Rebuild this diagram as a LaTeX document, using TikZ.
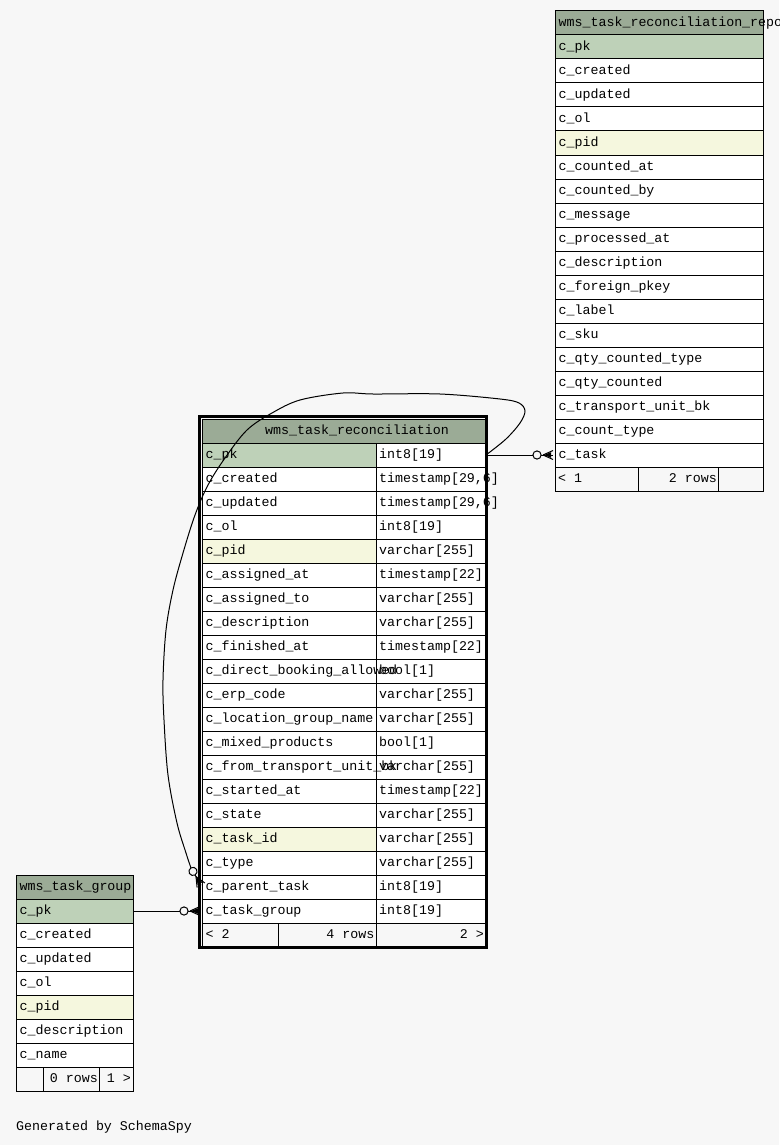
\documentclass[tikz,border=0pt]{standalone}
\usepackage{fontspec}
\newfontfamily\mono{Liberation Mono}[HyphenChar=None]
\usetikzlibrary{calc}
\definecolor{pagebg}{HTML}{F7F7F7}
\definecolor{headbg}{HTML}{9BAB96}
\definecolor{pkbg}{HTML}{BED1B8}
\definecolor{idxbg}{HTML}{F5F7DE}

% cell: name, x, y (top left), width, fill, text
\newcommand\tcell[6]{%
  \node[cellbox, fill=#5, minimum width=#4] (#1) at (#2,#3) {};
  \node[celltext] (#1-t) at ([xshift=3.5pt,yshift=-15.5pt]#1.north west) {#6};
}
% empty cell: name, x, y, width, fill
\newcommand\ecell[5]{%
  \node[cellbox, fill=#5, minimum width=#4] (#1) at (#2,#3) {};
}

\begin{document}
\begin{tikzpicture}[x=1pt,y=-1pt,
  cellbox/.style={draw=black, line width=1pt, rectangle, anchor=north west,
    inner sep=0pt, outer sep=0pt, minimum height=24pt},
  celltext/.style={anchor=base west, inner sep=0pt,
    font=\mono\fontsize{13.3}{16}\selectfont},
  righttext/.style={anchor=base east, inner sep=0pt,
    font=\mono\fontsize{13.3}{16}\selectfont},
  link/.style={draw=black, line width=1pt},
  crowdot/.pic={
    \draw[line width=1pt] (-12,0) -- (-2,-4.5);
    \draw[line width=1pt] (-12,0) -- (-2,4.5);
    \draw[line width=1pt] (-12,0) -- (-2,0);
    \fill[black] (-11,0) -- (-4,-2.8) -- (-4,2.8) -- cycle;
    \draw[line width=1pt] (-14,0) -- (-12,0);
    \draw[line width=1pt, fill=pagebg] (-18,0) circle[radius=4.1];
    \coordinate (-in) at (-22.1,0);
  }
]
\useasboundingbox (0,0) rectangle (779,1145);
\fill[pagebg] (0,0) rectangle (779,1145);
\clip (0,0) rectangle (779,1145);

% ---------- wms_task_reconciliation ----------
\node[cellbox, fill=headbg, minimum width=284pt] (mh) at (202,419) {};
\node[celltext] (mh-t) at (265,434.5) {wms\_task\_reconciliation};
\foreach \n/\t/\f [count=\i] in {
  c\_pk/{int8[19]}/pkbg,
  c\_created/{timestamp[29,6]}/white,
  c\_updated/{timestamp[29,6]}/white,
  c\_ol/{int8[19]}/white,
  c\_pid/{varchar[255]}/idxbg,
  c\_assigned\_at/{timestamp[22]}/white,
  c\_assigned\_to/{varchar[255]}/white,
  c\_description/{varchar[255]}/white,
  c\_finished\_at/{timestamp[22]}/white,
  c\_direct\_booking\_allowed/{bool[1]}/white,
  c\_erp\_code/{varchar[255]}/white,
  c\_location\_group\_name/{varchar[255]}/white,
  c\_mixed\_products/{bool[1]}/white,
  c\_from\_transport\_unit\_bk/{varchar[255]}/white,
  c\_started\_at/{timestamp[22]}/white,
  c\_state/{varchar[255]}/white,
  c\_task\_id/{varchar[255]}/idxbg,
  c\_type/{varchar[255]}/white,
  c\_parent\_task/{int8[19]}/white,
  c\_task\_group/{int8[19]}/white}{
  \ecell{m\i}{202}{{443+24*(\i-1)}}{174pt}{\f}
  \ecell{mt\i}{376}{{443+24*(\i-1)}}{110pt}{white}
}
\foreach \n/\t/\f [count=\i] in {
  c\_pk/{int8[19]}/pkbg,
  c\_created/{timestamp[29,6]}/white,
  c\_updated/{timestamp[29,6]}/white,
  c\_ol/{int8[19]}/white,
  c\_pid/{varchar[255]}/idxbg,
  c\_assigned\_at/{timestamp[22]}/white,
  c\_assigned\_to/{varchar[255]}/white,
  c\_description/{varchar[255]}/white,
  c\_finished\_at/{timestamp[22]}/white,
  c\_direct\_booking\_allowed/{bool[1]}/white,
  c\_erp\_code/{varchar[255]}/white,
  c\_location\_group\_name/{varchar[255]}/white,
  c\_mixed\_products/{bool[1]}/white,
  c\_from\_transport\_unit\_bk/{varchar[255]}/white,
  c\_started\_at/{timestamp[22]}/white,
  c\_state/{varchar[255]}/white,
  c\_task\_id/{varchar[255]}/idxbg,
  c\_type/{varchar[255]}/white,
  c\_parent\_task/{int8[19]}/white,
  c\_task\_group/{int8[19]}/white}{
  \node[celltext] (m\i-t) at ([xshift=3.5pt,yshift=-15.5pt]m\i.north west) {\n};
  \node[celltext] (mt\i-t) at ([xshift=3pt,yshift=-15.5pt]mt\i.north west) {\t};
}
\ecell{mf1}{202}{923}{76pt}{pagebg}
\ecell{mf2}{278}{923}{98pt}{pagebg}
\ecell{mf3}{376}{923}{110pt}{pagebg}
\node[celltext] (mf1-t) at ([xshift=3.5pt,yshift=-15.5pt]mf1.north west) {< 2};
\node[righttext] (mf2-t) at ([xshift=-1.5pt,yshift=-15.5pt]mf2.north east) {4 rows};
\node[righttext] (mf3-t) at ([xshift=-2pt,yshift=-15.5pt]mf3.north east) {2 >};
\draw[line width=3pt] (199.6,416.8) rectangle (486.6,947.8);

% ---------- wms_task_reconciliation_report ----------
\tcell{rh}{555}{11}{208pt}{headbg}{wms\_task\_reconciliation\_report}
\foreach \n/\f [count=\i] in {
  c\_pk/pkbg, c\_created/white, c\_updated/white, c\_ol/white, c\_pid/idxbg,
  c\_counted\_at/white, c\_counted\_by/white, c\_message/white,
  c\_processed\_at/white, c\_description/white, c\_foreign\_pkey/white,
  c\_label/white, c\_sku/white, c\_qty\_counted\_type/white,
  c\_qty\_counted/white, c\_transport\_unit\_bk/white, c\_count\_type/white,
  c\_task/white}{
  \tcell{r\i}{555}{{35+24*(\i-1)}}{208pt}{\f}{\n}
}
\ecell{rf1}{555}{467}{83pt}{pagebg}
\ecell{rf2}{638}{467}{80pt}{pagebg}
\ecell{rf3}{718}{467}{45pt}{pagebg}
\node[celltext] (rf1-t) at ([xshift=3pt,yshift=-15.5pt]rf1.north west) {< 1};
\node[righttext] (rf2-t) at ([xshift=-1pt,yshift=-15.5pt]rf2.north east) {2 rows};

% ---------- wms_task_group ----------
\tcell{lh}{16}{875}{117pt}{headbg}{wms\_task\_group}
\foreach \n/\f [count=\i] in {
  c\_pk/pkbg, c\_created/white, c\_updated/white, c\_ol/white, c\_pid/idxbg,
  c\_description/white, c\_name/white}{
  \tcell{l\i}{16}{{899+24*(\i-1)}}{117pt}{\f}{\n}
}
\ecell{lf1}{16}{1067}{27pt}{pagebg}
\ecell{lf2}{43}{1067}{56pt}{pagebg}
\ecell{lf3}{99}{1067}{34pt}{pagebg}
\node[righttext] (lf2-t) at ([xshift=-1pt,yshift=-15.5pt]lf2.north east) {0 rows};
\node[righttext] (lf3-t) at ([xshift=-2pt,yshift=-15.5pt]lf3.north east) {1 >};

% ---------- relationships ----------
\pic (ka) at (r18.west) {crowdot};
\draw[link] (mt1.east) -- (ka-in);

\pic (kb) at (m20.west) {crowdot};
\draw[link] (l1.east) -- (kb-in);

\pic[rotate=-60] (kc) at (m19.west) {crowdot};
\draw[link] plot[smooth, tension=0.55] coordinates {
  (mt1.east) (506,439) (520,423) (525,411) (519,403) (500,399) (440,394)
  (373,394) (343,393) (300,400) (272,413) (247,430) (225,458) (208,485)
  (195,515) (183,553) (173,590) (166,630) (163,680) (164,720) (168,775)
  (177,823) (186,853) (kc-in)};

\node[celltext] (credit) at (16,1130.5) {Generated by SchemaSpy};
\end{tikzpicture}
\end{document}
